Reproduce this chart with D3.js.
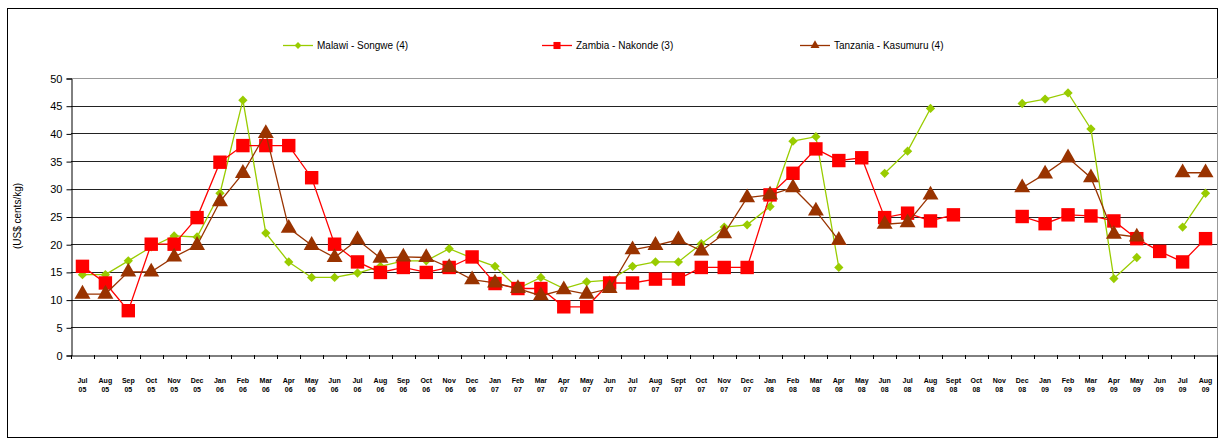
<!DOCTYPE html>
<html><head><meta charset="utf-8">
<script src="https://cdn.jsdelivr.net/npm/d3@7"></script>
<style>body{margin:0;background:#fff}svg{display:block}text{-webkit-font-smoothing:grayscale}</style>
</head><body>
<svg id="c" width="1220" height="440"></svg>
<script>
const monthLabels = ["Jul","Aug","Sep","Oct","Nov","Dec","Jan","Feb","Mar","Apr","May","Jun",
  "Jul","Aug","Sep","Oct","Nov","Dec","Jan","Feb","Mar","Apr","May","Jun",
  "Jul","Aug","Sept","Oct","Nov","Dec","Jan","Feb","Mar","Apr","May","Jun",
  "Jul","Aug","Sept","Oct","Nov","Dec","Jan","Feb","Mar","Apr","May","Jun",
  "Jul","Aug"];
const yearLabels = ["05","05","05","05","05","05","06","06","06","06","06","06",
  "06","06","06","06","06","06","07","07","07","07","07","07",
  "07","07","07","07","07","07","08","08","08","08","08","08",
  "08","08","08","08","08","08","09","09","09","09","09","09",
  "09","09"];
const malawi = [14.5,14.5,17,19.5,21.5,21.3,29.2,46,22,16.8,14,14,
  14.8,16,17,17,19.2,17.5,16,12,14,12,13.2,13.5,
  16,16.8,16.8,20.1,23.1,23.5,26.8,38.6,39.4,15.8,null,32.8,
  36.8,44.5,null,null,null,45.4,46.2,47.3,40.8,13.8,17.6,null,
  23.1,29.2];
const zambia = [16,13,8,20,20,24.8,34.8,37.8,37.8,37.8,32,20,
  16.8,14.9,15.8,14.9,15.8,17.7,12.9,12,12,8.7,8.7,13,
  13,13.7,13.7,15.8,15.8,15.8,28.9,32.8,37.2,35.1,35.6,24.8,
  25.6,24.2,25.3,null,null,25,23.7,25.3,25.1,24.2,21,18.7,
  16.8,21];
const tanzania = [11,11,15,15,17.7,19.8,27.7,32.8,40,22.9,19.8,17.6,
  20.8,17.5,17.7,17.6,15.8,13.6,13,12,10.7,11.8,11,12,
  19,19.8,20.8,18.8,21.9,28.4,28.9,30.2,26,20.7,null,23.6,
  23.9,28.9,null,null,null,30.2,32.7,35.6,32,21.8,21.3,null,
  32.9,32.9];
const yTicks = [0,5,10,15,20,25,30,35,40,45,50];
const seriesNames = ["Malawi - Songwe (4)","Zambia - Nakonde (3)","Tanzania - Kasumuru (4)"];

const svg = d3.select("#c");
const L = 71, R = 1217, T = 78, B = 355;
const x = d3.scaleBand().domain(d3.range(monthLabels.length)).range([L, R]);
const y = d3.scaleLinear().domain([0, 50]).range([B, T]);
const cx = i => x(i) + x.bandwidth() / 2;
const font = "'Liberation Sans', Arial, sans-serif";

// frame
svg.append("rect").attr("x", 7.5).attr("y", 8.5).attr("width", 1210).attr("height", 429)
  .attr("fill", "none").attr("stroke", "#000").attr("stroke-width", 1);

// gridlines
svg.append("g").selectAll("line").data(yTicks.filter(v => v > 0)).join("line")
  .attr("x1", L).attr("x2", R)
  .attr("y1", d => Math.round(y(d)) + 0.5).attr("y2", d => Math.round(y(d)) + 0.5)
  .attr("stroke", d => d === 50 ? "#999" : "#222").attr("stroke-width", 1);
svg.append("line").attr("x1", R + 0.5).attr("x2", R + 0.5).attr("y1", T).attr("y2", B)
  .attr("stroke", "#999");

// y axis
const yAxis = d3.axisLeft(y).tickValues(yTicks).tickSize(5).tickPadding(4);
const gy = svg.append("g").attr("transform", `translate(${L + 0.5},0.5)`).call(yAxis);
gy.select(".domain").attr("stroke", "#000");
gy.selectAll(".tick line").attr("stroke", "#000");
gy.selectAll("text").attr("font-family", font).attr("font-size", 11).attr("fill", "#000");

// x axis
const xAxis = d3.axisBottom(x).tickFormat(() => "").tickSize(0);
const gx = svg.append("g").attr("transform", `translate(0,${B + 0.5})`).call(xAxis);
gx.select(".domain").attr("stroke", "#000");
gx.selectAll(".tick").remove();
svg.append("g").selectAll("line").data(d3.range(monthLabels.length + 1)).join("line")
  .attr("x1", i => Math.round(L + i * x.step()) + 0.5).attr("x2", i => Math.round(L + i * x.step()) + 0.5)
  .attr("y1", B).attr("y2", B + 4).attr("stroke", "#000");
const xl = svg.append("g").attr("font-family", font).attr("font-size", 7).attr("font-weight", "bold")
  .attr("text-anchor", "middle").attr("fill", "#000");
xl.selectAll("text.m").data(monthLabels).join("text").attr("class", "m")
  .attr("x", (d, i) => cx(i)).attr("y", 383).text(d => d);
xl.selectAll("text.yr").data(yearLabels).join("text").attr("class", "yr")
  .attr("x", (d, i) => cx(i)).attr("y", 392).text(d => d);

// y title
svg.append("text").attr("transform", "translate(21,216) rotate(-90)")
  .attr("text-anchor", "middle").attr("font-family", font).attr("font-size", 10)
  .text("(US$ cents/kg)");

// series
const colors = ["#99CC00", "#FF0000", "#993300"];
const data = [malawi, zambia, tanzania];
const line = d3.line().defined(d => d != null).x((d, i) => cx(i)).y(d => y(d));
const symbols = [d3.symbol().type(d3.symbolDiamond2).size(55),
                 d3.symbol().type(d3.symbolSquare).size(180),
                 d3.symbol().type(d3.symbolTriangle).size(110)];
data.forEach((vals, s) => {
  const g = svg.append("g");
  g.append("path").attr("d", line(vals)).attr("fill", "none")
    .attr("stroke", colors[s]).attr("stroke-width", 1.3);
  g.selectAll("path.pt").data(vals.map((v, i) => [v, i]).filter(d => d[0] != null)).join("path")
    .attr("class", "pt").attr("d", symbols[s]())
    .attr("transform", d => `translate(${cx(d[1])},${y(d[0])})`)
    .attr("fill", colors[s]);
});

// legend
const legX = [283, 542, 800];
const lg = svg.append("g");
seriesNames.forEach((n, s) => {
  lg.append("line").attr("x1", legX[s]).attr("x2", legX[s] + 30).attr("y1", 45.5).attr("y2", 45.5)
    .attr("stroke", colors[s]).attr("stroke-width", 1.3);
  const sym = [d3.symbol().type(d3.symbolDiamond2).size(30),
               d3.symbol().type(d3.symbolSquare).size(50),
               d3.symbol().type(d3.symbolTriangle).size(35)][s];
  lg.append("path").attr("d", sym()).attr("transform", `translate(${legX[s] + 15},45.5)`)
    .attr("fill", colors[s]);
  lg.append("text").attr("x", legX[s] + 34).attr("y", 49).attr("font-family", font)
    .attr("font-size", 10).attr("fill", "#000").text(n);
});
</script>
</body></html>
